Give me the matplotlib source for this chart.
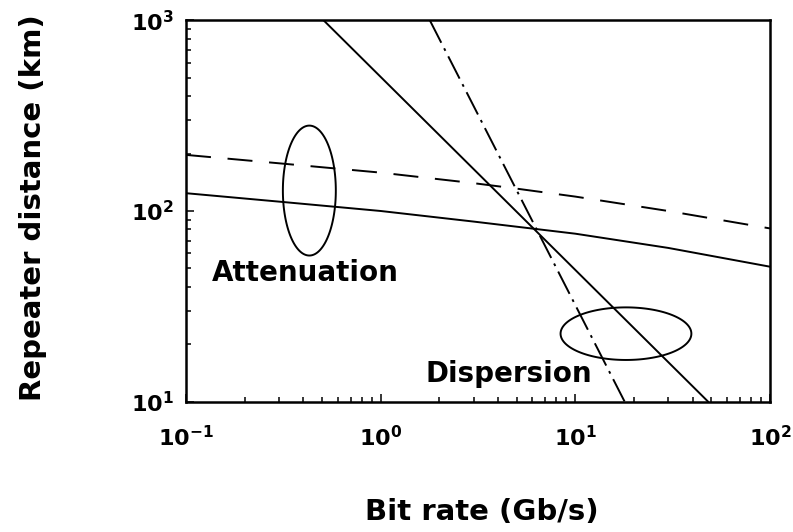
import numpy as np
import matplotlib
matplotlib.use("Agg")
import matplotlib.pyplot as plt
from matplotlib.patches import Polygon

# bit rate (Gb/s) vs. repeater spacing (km)
att_solid_rate = [0.1, 0.3, 1, 3, 10, 30, 100]
att_solid_dist = [124, 112, 100, 88, 76, 64, 51]

att_dash_rate = [0.1, 0.3, 1, 3, 5, 10, 30, 100]
att_dash_dist = [197, 178, 159, 140, 131, 119, 100, 81]

disp_solid_rate = [0.51, 48]
disp_solid_dist = [1000, 10]

disp_dashdot_rate = [1.79, 17.9]
disp_dashdot_dist = [1000, 10]

xticks = [0.1, 1, 10, 100]
xtick_labels = [r"$\mathbf{10^{-1}}$", r"$\mathbf{10^{0}}$", r"$\mathbf{10^{1}}$", r"$\mathbf{10^{2}}$"]
yticks = [10, 100, 1000]
ytick_labels = [r"$\mathbf{10^{1}}$", r"$\mathbf{10^{2}}$", r"$\mathbf{10^{3}}$"]

plt.rcParams["font.family"] = ["DejaVu Sans"]
plt.rcParams["font.weight"] = "bold"
plt.rcParams["mathtext.fontset"] = "dejavusans"
plt.rcParams["lines.scale_dashes"] = False


def log_ellipse(ax, cx, cy, wdec, hdec, lw):
    # closed ellipse in log-log space, half axes given in decades
    t = np.linspace(0, 2 * np.pi, 200, endpoint=False)
    x = 10 ** (np.log10(cx) + wdec * np.cos(t))
    y = 10 ** (np.log10(cy) + hdec * np.sin(t))
    ax.add_patch(Polygon(np.column_stack([x, y]), closed=True, fill=False,
                         edgecolor="black", lw=lw))


fig = plt.figure(figsize=(7.93, 5.32), dpi=100)
ax = fig.add_axes([0.2346, 0.2453, 0.7364, 0.7162])
ax.set_xscale("log")
ax.set_yscale("log")
ax.set_xlim(0.1, 100)
ax.set_ylim(10, 1000)

lw = 1.4
ax.plot(att_solid_rate, att_solid_dist, color="black", lw=lw)
ax.plot(att_dash_rate, att_dash_dist, color="black", lw=lw, linestyle=(0, (18, 12)))
ax.plot(disp_solid_rate, disp_solid_dist, color="black", lw=lw)
ax.plot(disp_dashdot_rate, disp_dashdot_dist, color="black", lw=lw,
        linestyle=(0, (18, 4.5, 2, 4.5)))

log_ellipse(ax, 0.43, 128, 0.136, 0.341, lw)
log_ellipse(ax, 18.2, 22.7, 0.336, 0.138, lw)

ax.text(0.136, 47.3, "Attenuation", fontsize=20, fontweight="bold", ha="left", va="center")
ax.text(1.69, 13.9, "Dispersion", fontsize=20, fontweight="bold", ha="left", va="center")

ax.set_xticks(xticks)
ax.set_xticklabels(xtick_labels)
ax.set_yticks(yticks)
ax.set_yticklabels(ytick_labels)
ax.tick_params(which="both", direction="in", top=False, right=False, width=1.1)
ax.tick_params(which="major", length=6)
ax.tick_params(which="minor", length=3.5)
ax.tick_params(axis="x", which="major", labelsize=16, pad=17)
ax.tick_params(axis="y", which="major", labelsize=16, pad=9)

for sp in ax.spines.values():
    sp.set_linewidth(1.8)

ax.set_xlabel("Bit rate (Gb/s)", fontsize=21, fontweight="bold")
ax.set_ylabel("Repeater distance (km)", fontsize=21, fontweight="bold")
ax.xaxis.label.set_va("center")
ax.yaxis.label.set_va("center")
ax.xaxis.set_label_coords(0.507, -0.29)
ax.yaxis.set_label_coords(-0.262, 0.51)

fig.savefig("out.png", dpi=100)
